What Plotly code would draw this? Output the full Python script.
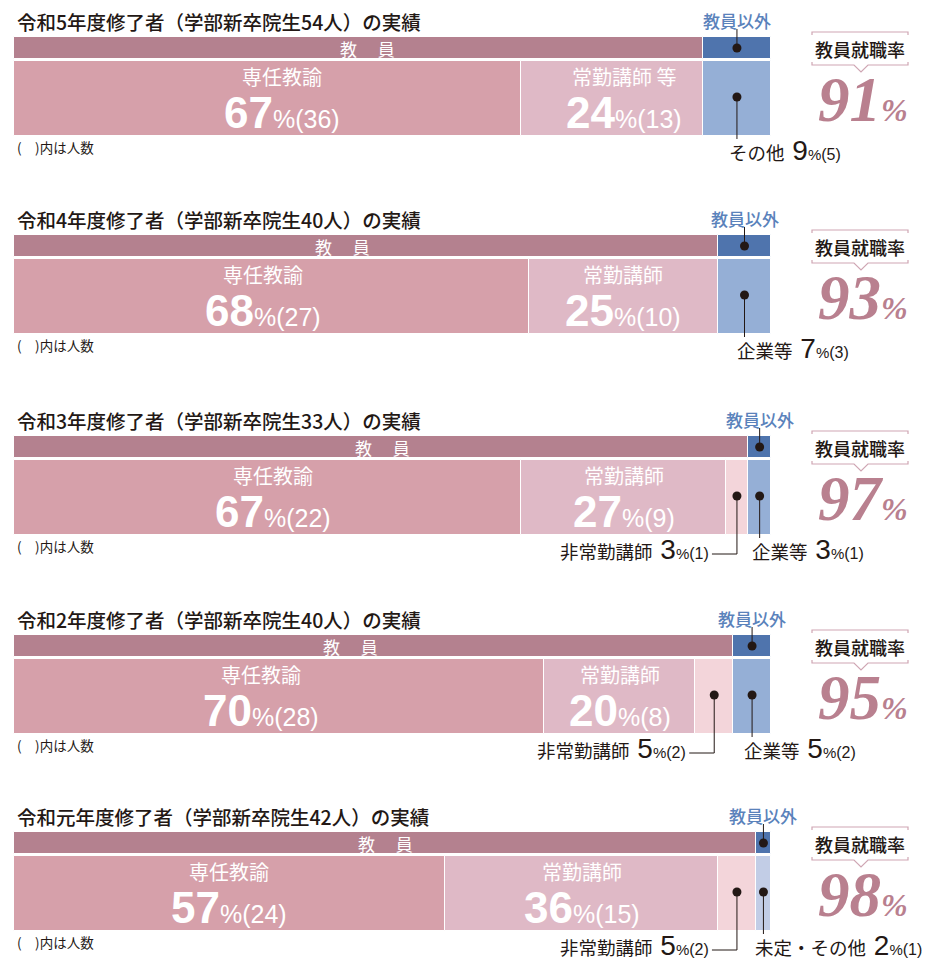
import plotly.graph_objects as go

# ---------------- data ----------------
years = ["令和5年度", "令和4年度", "令和3年度", "令和2年度", "令和元年度"]
graduates = [54, 40, 33, 40, 42]
teacher_rate = [91, 93, 97, 95, 98]

full_name = "専任教諭"
full_pct = [67, 68, 67, 70, 57]
full_n = [36, 27, 22, 28, 24]

contract_name = ["常勤講師 等", "常勤講師", "常勤講師", "常勤講師", "常勤講師"]
contract_pct = [24, 25, 27, 20, 36]
contract_n = [13, 10, 9, 8, 15]

part_name = "非常勤講師"
part_pct = [0, 0, 3, 5, 5]
part_n = [0, 0, 1, 2, 2]

other_name = ["その他", "企業等", "企業等", "企業等", "未定・その他"]
other_pct = [9, 7, 3, 5, 2]
other_n = [5, 3, 1, 2, 1]

# ---------------- style / layout constants ----------------
W, H = 931, 958
BAR_L, BAR_R = 14, 771
PX = (BAR_R - BAR_L) / 100.0          # pixels per percent
panel_top = [37, 235, 436, 635, 832]  # top of header strip of each panel
HEAD_H, GAP, MAIN_H = 22, 2, 75
# small manual label nudges (pixels), as in the original layout
FULL_DX = [14, -8, 5, -18, -1]
CONTRACT_DX = [12, 0, 1, 0, 0]
HEAD_DX = [9, -24, 1, -23, 1]

C_HEAD_T = "#b4818f"
C_HEAD_O = "#4f74ad"
C_FULL = "#d6a0aa"
C_CONTRACT = "#dfb9c6"
C_PART = "#f3d5da"
C_OTHER = "#95afd6"
C_UNDECIDED = "#c2cde6"
C_TEXT = "#231815"
C_BLUE = "#5a82bb"
C_MAUVE = "#b9808f"
C_BOXLINE = "#cfa6b3"
JP = "Noto Sans CJK JP"
LAT = "Liberation Sans"

fig = go.Figure()

teacher_total = [f + c + p for f, c, p in zip(full_pct, contract_pct, part_pct)]
head_y = [t + HEAD_H / 2 for t in panel_top]
main_y = [t + HEAD_H + GAP + MAIN_H / 2 for t in panel_top]

def add_bar(xs, bases, ys, h, colors):
    fig.add_trace(go.Bar(
        orientation="h", x=xs, base=bases, y=ys, width=[h] * len(ys),
        marker=dict(color=colors, line=dict(color="white", width=1)),
        xaxis="x2", yaxis="y", showlegend=False, hoverinfo="skip"))

# header strip
add_bar(teacher_total, [0] * 5, head_y, HEAD_H, [C_HEAD_T] * 5)
add_bar(other_pct, teacher_total, head_y, HEAD_H, [C_HEAD_O] * 5)
# main bar
add_bar(full_pct, [0] * 5, main_y, MAIN_H, [C_FULL] * 5)
add_bar(contract_pct, full_pct, main_y, MAIN_H, [C_CONTRACT] * 5)
add_bar(part_pct, [f + c for f, c in zip(full_pct, contract_pct)], main_y, MAIN_H, [C_PART] * 5)
other_colors = [C_UNDECIDED if n.startswith("未定") else C_OTHER for n in other_name]
add_bar(other_pct, teacher_total, main_y, MAIN_H, other_colors)

def small_label(name, pct, n):
    return (f"{name}<span style='font-size:28px;font-family:{LAT}'> {pct}</span>"
            f"<span style='font-size:15px;font-family:{LAT}'>%</span>"
            f"<span style='font-size:16px;font-family:{LAT}'>({n})</span>")

# dots and leader lines
dot_x, dot_y = [], []
lx, ly = [], []
annos = []
for i, t in enumerate(panel_top):
    oc = teacher_total[i] + other_pct[i] / 2
    dot_x += [oc]; dot_y += [t + 11]
    lx += [oc, oc, None]; ly += [t - 8, t + 11, None]
    dy = t + 60
    dot_x += [oc]; dot_y += [dy]
    lx += [oc, oc, None]; ly += [dy, t + 102, None]
    annos.append(dict(
        x=oc, y=t + 113, xref="x2", yref="y", xanchor="left", yanchor="middle",
        xshift=-9, showarrow=False, borderpad=0,
        text=small_label(other_name[i], other_pct[i], other_n[i]),
        font=dict(family=JP, size=18.5, color=C_TEXT)))
    if part_pct[i] > 0:
        pc = full_pct[i] + contract_pct[i] + part_pct[i] / 2
        left = pc - 25 / PX
        dot_x += [pc]; dot_y += [dy]
        lx += [pc, pc, left, None]; ly += [dy, t + 118, t + 118, None]
        annos.append(dict(
            x=left, y=t + 113, xref="x2", yref="y", xanchor="right", yanchor="middle",
            xshift=-2, showarrow=False, borderpad=0,
            text=small_label(part_name, part_pct[i], part_n[i]),
            font=dict(family=JP, size=18.5, color=C_TEXT)))

fig.add_trace(go.Scatter(x=lx, y=ly, mode="lines", line=dict(color=C_TEXT, width=1),
                         xaxis="x2", yaxis="y", showlegend=False, hoverinfo="skip"))
fig.add_trace(go.Scatter(x=dot_x, y=dot_y, mode="markers",
                         marker=dict(color=C_TEXT, size=9),
                         xaxis="x2", yaxis="y", showlegend=False, hoverinfo="skip"))

shapes = []
for i, t in enumerate(panel_top):
    mt = t + HEAD_H + GAP
    annos.append(dict(x=15, y=t - 16, xref="x", yref="y", xanchor="left", yanchor="middle",
                      showarrow=False, text=f"{years[i]}修了者（学部新卒院生{graduates[i]}人）の実績",
                      font=dict(family=JP, size=19.5, color=C_TEXT, weight=500)))
    annos.append(dict(x=teacher_total[i] / 2, y=t + 11, xref="x2", yref="y", showarrow=False,
                      xshift=HEAD_DX[i], text="教 　員",
                      font=dict(family=JP, size=17, color="white")))
    annos.append(dict(x=teacher_total[i] + other_pct[i] / 2, y=t - 17, xref="x2", yref="y",
                      showarrow=False, text="教員以外",
                      font=dict(family=JP, size=17, color=C_BLUE, weight=500)))
    segs = [(full_name, full_pct[i], full_n[i], 0, FULL_DX[i]),
            (contract_name[i], contract_pct[i], contract_n[i], full_pct[i], CONTRACT_DX[i])]
    for name, pct, n, base, dx in segs:
        cx = base + pct / 2
        annos.append(dict(x=cx, y=mt + 15, xref="x2", yref="y", showarrow=False, xshift=dx,
                          text=name, font=dict(family=JP, size=20, color="white")))
        annos.append(dict(x=cx, y=mt + 51, xref="x2", yref="y", showarrow=False, xshift=dx,
                          text=f"<b><span style='font-size:44px'>{pct}</span></b>"
                               f"<span style='font-size:25px'>%</span>({n})",
                          font=dict(family=LAT, size=25, color="white")))
    annos.append(dict(x=15, y=t + 110, xref="x", yref="y", xanchor="left", yanchor="middle",
                      showarrow=False, text="(　)内は人数",
                      font=dict(family=JP, size=13.5, color=C_TEXT)))
    top, bot = t - 5, t + 28
    shapes.append(dict(type="path", xref="x", yref="y",
                       path=f"M 812 {top+3} L 812 {top} L 908 {top} L 908 {top+3}",
                       line=dict(color=C_BOXLINE, width=1.2)))
    shapes.append(dict(type="path", xref="x", yref="y",
                       path=f"M 812 {bot-3} L 812 {bot} L 854 {bot} L 861 {bot+7} L 868 {bot} "
                            f"L 908 {bot} L 908 {bot-3}",
                       line=dict(color=C_BOXLINE, width=1.2)))
    annos.append(dict(x=860, y=t + 12, xref="x", yref="y", showarrow=False,
                      text="教員就職率", font=dict(family=JP, size=18, color=C_TEXT, weight=500)))
    annos.append(dict(x=863, y=t + 63, xref="x", yref="y", showarrow=False,
                      text=f"{teacher_rate[i]}<span style='font-size:32px'>%</span>",
                      font=dict(family="Liberation Serif", size=63, color=C_MAUVE,
                                style="italic", weight="bold")))

fig.update_layout(
    width=W, height=H, margin=dict(l=0, r=0, t=0, b=0),
    paper_bgcolor="white", plot_bgcolor="white",
    barmode="overlay", bargap=0,
    xaxis=dict(range=[0, W], visible=False, fixedrange=True),
    xaxis2=dict(range=[-BAR_L / PX, (W - BAR_L) / PX], visible=False, overlaying="x",
                fixedrange=True),
    yaxis=dict(range=[H, 0], visible=False, fixedrange=True),
    shapes=shapes, annotations=annos,
)
fig.write_html("out.html", config={"displayModeBar": False},
               post_script="document.body.style.margin='0';")
